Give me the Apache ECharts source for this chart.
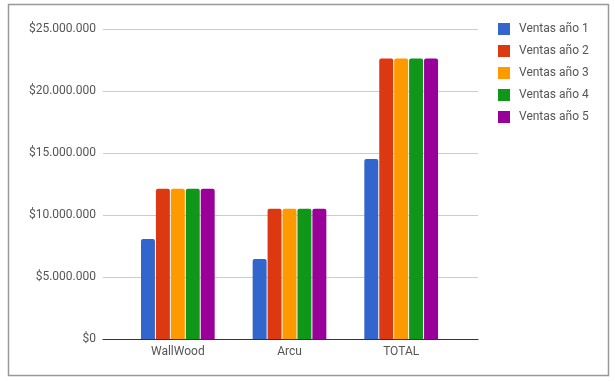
<!DOCTYPE html>
<html>
<head>
<meta charset="utf-8">
<script src="https://cdn.jsdelivr.net/npm/echarts@6/dist/echarts.min.js"></script>
<style>html,body{margin:0;padding:0;background:#fff}#c{width:615px;height:381px}</style>
</head>
<body>
<div id="c"></div>
<script>
const categories = ['WallWood', 'Arcu', 'TOTAL'];
const seriesNames = ['Ventas año 1', 'Ventas año 2', 'Ventas año 3', 'Ventas año 4', 'Ventas año 5'];
const year1 = [8060000, 6450000, 14510000];
const year2 = [12120000, 10500000, 22620000];
const year3 = [12120000, 10500000, 22620000];
const year4 = [12120000, 10500000, 22620000];
const year5 = [12120000, 10500000, 22620000];
const yTicks = [0, 5000000, 10000000, 15000000, 20000000, 25000000];
const colors = ['#3366cc', '#dc3912', '#ff9900', '#109618', '#990099'];

const values = [year1, year2, year3, year4, year5];
const fmt = v => '$' + String(Math.round(v)).replace(/\B(?=(\d{3})+(?!\d))/g, '.');
const yMax = yTicks[yTicks.length - 1];
const yInt = yTicks[1] - yTicks[0];

const chart = echarts.init(document.getElementById('c'), null, {renderer: 'canvas'});
chart.setOption({
  animation: false,
  color: colors,
  textStyle: {fontFamily: 'Roboto, Arial, sans-serif'},
  graphic: [{
    type: 'rect', shape: {x: 8.5, y: 4.5, width: 600, height: 371},
    style: {fill: 'none', stroke: '#999', lineWidth: 1.5}, z: -10
  }],
  legend: {
    orient: 'vertical', left: 493, top: 18,
    itemWidth: 12, itemHeight: 12, itemGap: 10, icon: 'rect',
    textStyle: {fontSize: 12, color: '#555', fontFamily: 'Roboto, Arial, sans-serif', padding: [0, 0, 0, 4]},
    data: seriesNames
  },
  grid: [
    {left: 122, right: 158, top: 29, bottom: 42},
    {left: 103, right: 137, top: 29, bottom: 42}
  ],
  xAxis: [
    {type: 'category', gridIndex: 0, data: categories,
     axisLine: {show: false}, axisTick: {show: false},
     axisLabel: {fontSize: 12, color: '#555', margin: 7}},
    {type: 'value', gridIndex: 1, min: 0, max: 1,
     axisLine: {show: true, onZero: false, lineStyle: {color: '#333', width: 1}},
     axisTick: {show: false}, axisLabel: {show: false}, splitLine: {show: false}}
  ],
  yAxis: [
    {type: 'value', gridIndex: 0, min: 0, max: yMax, interval: yInt,
     axisLine: {show: false}, axisTick: {show: false}, axisLabel: {show: false}, splitLine: {show: false}},
    {type: 'value', gridIndex: 1, min: 0, max: yMax, interval: yInt,
     axisLine: {show: false}, axisTick: {show: false},
     axisLabel: {fontSize: 12, color: '#555', margin: 7, formatter: fmt},
     splitLine: {show: true, lineStyle: {color: '#cccccc', width: 1}}}
  ],
  series: seriesNames.map((n, i) => ({
    name: n, type: 'bar', xAxisIndex: 0, yAxisIndex: 0,
    data: values[i],
    barCategoryGap: '34%', barGap: '7%',
    itemStyle: {color: colors[i], borderRadius: [2, 2, 0, 0]},
    z: 5
  }))
});
</script>
</body>
</html>
